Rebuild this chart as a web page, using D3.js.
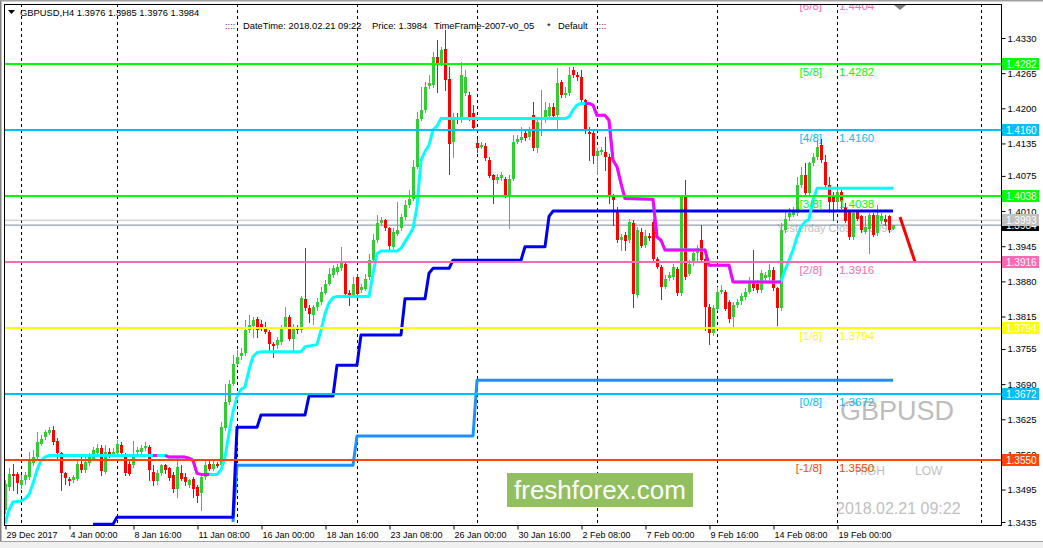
<!DOCTYPE html>
<html>
<head>
<meta charset="utf-8">
<script src="https://cdnjs.cloudflare.com/ajax/libs/d3/7.8.5/d3.min.js"></script>
<style>
body { margin: 0; background: #fff; }
svg { display: block; font-family: "Liberation Sans", Arial, sans-serif; }
</style>
</head>
<body>
<svg width="1043" height="548"></svg>
<script>
// H4 bars, [open, high, low, close]
var candles = [
[1.3457,1.3512,1.3451,1.3506],[1.3499,1.3534,1.3494,1.3523],[1.3523,1.3543,1.3494,1.3520],[1.3523,1.3528,1.3488,1.3506],
[1.3503,1.3522,1.3497,1.3512],[1.3512,1.3528,1.3506,1.3522],[1.3518,1.3565,1.3515,1.3549],[1.3543,1.3568,1.3540,1.3555],
[1.3555,1.3602,1.3549,1.3583],[1.3580,1.3596,1.3577,1.3589],[1.3592,1.3606,1.3589,1.3602],[1.3600,1.3610,1.3597,1.3606],
[1.3605,1.3612,1.3580,1.3583],[1.3585,1.3591,1.3549,1.3562],[1.3562,1.3565,1.3494,1.3525],[1.3525,1.3528,1.3506,1.3515],
[1.3515,1.3518,1.3503,1.3512],[1.3512,1.3522,1.3509,1.3518],[1.3515,1.3549,1.3512,1.3543],[1.3543,1.3555,1.3528,1.3531],
[1.3531,1.3555,1.3528,1.3546],[1.3543,1.3562,1.3540,1.3555],[1.3552,1.3574,1.3549,1.3568],[1.3562,1.3580,1.3559,1.3571],
[1.3571,1.3577,1.3522,1.3528],[1.3528,1.3577,1.3525,1.3565],[1.3565,1.3571,1.3555,1.3560],[1.3562,1.3571,1.3557,1.3565],
[1.3563,1.3586,1.3560,1.3580],[1.3577,1.3583,1.3559,1.3562],[1.3555,1.3562,1.3522,1.3525],[1.3543,1.3549,1.3522,1.3525],
[1.3540,1.3585,1.3537,1.3555],[1.3565,1.3574,1.3562,1.3568],[1.3563,1.3577,1.3560,1.3571],[1.3571,1.3583,1.3568,1.3575],
[1.3574,1.3577,1.3512,1.3531],[1.3528,1.3540,1.3503,1.3512],[1.3512,1.3531,1.3506,1.3526],[1.3525,1.3543,1.3522,1.3540],
[1.3540,1.3543,1.3525,1.3531],[1.3534,1.3537,1.3512,1.3515],[1.3522,1.3528,1.3491,1.3497],[1.3497,1.3555,1.3481,1.3537],
[1.3526,1.3540,1.3512,1.3515],[1.3518,1.3525,1.3503,1.3509],[1.3503,1.3515,1.3500,1.3512],[1.3515,1.3518,1.3481,1.3497],
[1.3500,1.3503,1.3472,1.3484],[1.3488,1.3525,1.3457,1.3518],[1.3518,1.3549,1.3515,1.3540],[1.3543,1.3549,1.3531,1.3534],
[1.3534,1.3552,1.3531,1.3543],[1.3543,1.3546,1.3537,1.3540],[1.3540,1.3620,1.3537,1.3611],[1.3608,1.3691,1.3605,1.3657],
[1.3657,1.3697,1.3654,1.3691],[1.3691,1.3744,1.3688,1.3728],[1.3728,1.3753,1.3725,1.3741],[1.3741,1.3756,1.3737,1.3747],
[1.3747,1.3808,1.3744,1.3790],[1.3790,1.3818,1.3787,1.3799],[1.3796,1.3815,1.3778,1.3808],[1.3810,1.3815,1.3778,1.3790],
[1.3802,1.3808,1.3790,1.3796],[1.3796,1.3805,1.3784,1.3787],[1.3787,1.3790,1.3753,1.3765],[1.3765,1.3768,1.3741,1.3762],
[1.3762,1.3778,1.3756,1.3771],[1.3768,1.3799,1.3765,1.3796],[1.3796,1.3833,1.3793,1.3815],[1.3815,1.3818,1.3771,1.3774],
[1.3774,1.3802,1.3753,1.3796],[1.3796,1.3799,1.3784,1.3790],[1.3790,1.3852,1.3787,1.3849],[1.3847,1.3941,1.3827,1.3830],
[1.3830,1.3836,1.3805,1.3818],[1.3818,1.3836,1.3802,1.3832],[1.3832,1.3849,1.3827,1.3842],[1.3842,1.3870,1.3839,1.3860],
[1.3860,1.3882,1.3857,1.3876],[1.3876,1.3904,1.3873,1.3894],[1.3891,1.3910,1.3888,1.3904],[1.3897,1.3913,1.3894,1.3907],
[1.3904,1.3944,1.3901,1.3916],[1.3913,1.3916,1.3854,1.3857],[1.3859,1.3864,1.3836,1.3854],[1.3854,1.3888,1.3851,1.3876],
[1.3888,1.3894,1.3854,1.3857],[1.3864,1.3876,1.3860,1.3870],[1.3867,1.3894,1.3864,1.3885],[1.3888,1.3931,1.3885,1.3919],
[1.3919,1.3968,1.3916,1.3956],[1.3956,1.4002,1.3953,1.3987],[1.3987,1.3999,1.3984,1.3993],[1.3993,1.3996,1.3975,1.3978],
[1.3978,1.3981,1.3938,1.3944],[1.3944,1.3978,1.3941,1.3972],[1.3968,1.4027,1.3965,1.3975],[1.3978,1.4005,1.3975,1.3999],
[1.3999,1.4030,1.3996,1.4021],[1.4021,1.4049,1.4018,1.4033],[1.4033,1.4104,1.4030,1.4092],[1.4092,1.4194,1.4089,1.4181],
[1.4181,1.4240,1.4178,1.4197],[1.4197,1.4249,1.4194,1.4240],[1.4240,1.4262,1.4237,1.4246],[1.4243,1.4305,1.4240,1.4295],
[1.4295,1.4326,1.4231,1.4283],[1.4283,1.4314,1.4280,1.4308],[1.4309,1.4345,1.4234,1.4252],[1.4255,1.4277,1.4079,1.4135],
[1.4138,1.4191,1.4110,1.4184],[1.4184,1.4191,1.4172,1.4178],[1.4178,1.4286,1.4175,1.4262],[1.4228,1.4271,1.4225,1.4258],
[1.4224,1.4231,1.4178,1.4184],[1.4191,1.4206,1.4160,1.4163],[1.4136,1.4144,1.4120,1.4126],[1.4129,1.4138,1.4126,1.4132],
[1.4130,1.4135,1.4104,1.4107],[1.4105,1.4110,1.4073,1.4076],[1.4076,1.4079,1.4024,1.4067],[1.4067,1.4079,1.4061,1.4073],
[1.4070,1.4082,1.4067,1.4076],[1.4070,1.4073,1.4036,1.4039],[1.4039,1.4076,1.3978,1.4070],[1.4070,1.4150,1.4067,1.4138],
[1.4138,1.4150,1.4135,1.4144],[1.4141,1.4166,1.4138,1.4147],[1.4154,1.4160,1.4141,1.4144],[1.4147,1.4166,1.4144,1.4160],
[1.4187,1.4212,1.4123,1.4126],[1.4126,1.4181,1.4120,1.4175],[1.4178,1.4234,1.4150,1.4184],[1.4178,1.4212,1.4175,1.4197],
[1.4187,1.4209,1.4184,1.4203],[1.4203,1.4209,1.4184,1.4187],[1.4187,1.4274,1.4160,1.4246],[1.4249,1.4252,1.4221,1.4225],
[1.4225,1.4240,1.4221,1.4228],[1.4228,1.4277,1.4225,1.4262],[1.4271,1.4277,1.4258,1.4262],[1.4262,1.4268,1.4252,1.4258],
[1.4258,1.4271,1.4212,1.4215],[1.4215,1.4218,1.4154,1.4157],[1.4157,1.4166,1.4104,1.4154],[1.4154,1.4160,1.4098,1.4112],
[1.4112,1.4126,1.4079,1.4121],[1.4120,1.4129,1.4116,1.4123],[1.4120,1.4147,1.4086,1.4110],[1.4110,1.4116,1.4024,1.4039],
[1.4036,1.4042,1.3984,1.4030],[1.4012,1.4018,1.3953,1.3956],[1.3956,1.3968,1.3938,1.3962],[1.3965,1.3972,1.3938,1.3953],
[1.3956,1.3996,1.3953,1.3990],[1.3987,1.3993,1.3833,1.3855],[1.3855,1.3981,1.3851,1.3975],[1.3972,1.3978,1.3944,1.3947],
[1.3947,1.3975,1.3944,1.3964],[1.3964,1.3969,1.3956,1.3961],[1.3990,1.3996,1.3919,1.3922],[1.3922,1.3925,1.3904,1.3907],
[1.3907,1.3910,1.3848,1.3870],[1.3870,1.3891,1.3867,1.3885],[1.3885,1.3898,1.3882,1.3891],[1.3888,1.3913,1.3885,1.3907],
[1.3902,1.3907,1.3854,1.3858],[1.3858,1.4040,1.3854,1.4037],[1.4037,1.4067,1.3885,1.3888],[1.3895,1.3919,1.3891,1.3913],
[1.3913,1.3938,1.3910,1.3932],[1.3932,1.3947,1.3919,1.3941],[1.3956,1.3984,1.3916,1.3919],[1.3922,1.3928,1.3790,1.3833],
[1.3833,1.3839,1.3765,1.3784],[1.3784,1.3836,1.3781,1.3830],[1.3830,1.3870,1.3827,1.3861],[1.3861,1.3873,1.3858,1.3864],
[1.3861,1.3864,1.3827,1.3830],[1.3842,1.3845,1.3805,1.3811],[1.3814,1.3842,1.3796,1.3836],[1.3836,1.3848,1.3833,1.3842],
[1.3842,1.3858,1.3839,1.3852],[1.3852,1.3867,1.3848,1.3861],[1.3861,1.3888,1.3858,1.3879],[1.3879,1.3938,1.3864,1.3867],
[1.3876,1.3882,1.3861,1.3864],[1.3864,1.3901,1.3861,1.3895],[1.3885,1.3898,1.3882,1.3891],[1.3888,1.3913,1.3885,1.3901],
[1.3901,1.3907,1.3864,1.3867],[1.3867,1.3870,1.3799,1.3830],[1.3830,1.3987,1.3827,1.3975],[1.3975,1.4012,1.3972,1.3996],
[1.3998,1.4015,1.3994,1.4006],[1.4003,1.4018,1.4000,1.4009],[1.4006,1.4073,1.4003,1.4058],[1.4058,1.4092,1.4055,1.4077],
[1.4077,1.4098,1.4040,1.4043],[1.4043,1.4101,1.4040,1.4098],[1.4098,1.4117,1.4095,1.4110],[1.4110,1.4141,1.4107,1.4129],
[1.4132,1.4144,1.4101,1.4104],[1.4101,1.4113,1.4055,1.4058],[1.4058,1.4073,1.4009,1.4027],[1.4040,1.4046,1.3993,1.4027],
[1.4027,1.4052,1.4012,1.4046],[1.4046,1.4049,1.4015,1.4030],[1.4018,1.4024,1.3990,1.3993],[1.4009,1.4012,1.3959,1.3962],
[1.3962,1.4012,1.3959,1.4006],[1.4009,1.4012,1.3993,1.3996],[1.4000,1.4003,1.3972,1.3975],[1.3972,1.4000,1.3969,1.3981],
[1.3978,1.4006,1.3932,1.4003],[1.4003,1.4006,1.3963,1.3966],[1.3969,1.4021,1.3966,1.4003],[1.3990,1.4006,1.3987,1.4000],
[1.3996,1.4003,1.3984,1.3990],[1.4000,1.4003,1.3972,1.3975],[1.3976,1.3985,1.3976,1.3984]
];

var timeLabels = ["29 Dec 2017","4 Jan 00:00","8 Jan 16:00","11 Jan 08:00","16 Jan 00:00","18 Jan 16:00","23 Jan 08:00",
    "26 Jan 00:00","30 Jan 16:00","2 Feb 08:00","7 Feb 00:00","9 Feb 16:00","14 Feb 08:00","19 Feb 00:00"];
var timeLabelBars = [0,16,32,48,64,80,96,112,128,144,160,176,192,208];
var gridBars = [4,28,58,88,118,148,178,208,244];
var priceTicks = [1.4330,1.4265,1.4200,1.4135,1.4075,1.4010,1.3945,1.3880,1.3815,1.3755,1.3690,1.3625,1.3560,1.3495,1.3435];

var murreyPrices = [1.4404,1.4282,1.4160,1.4038,1.3916,1.3794,1.3672,1.3550];
var murreyNames = ["[6/8]","[5/8]","[4/8]","[3/8]","[2/8]","[1/8]","[0/8]","[-1/8]"];
var murreyColors = ["#ff69b4","#00ff00","#00bfff","#00ff00","#ff69b4","#ffff00","#00bfff","#ff4500"];

// trailing stop [bar, price]; down trend stretches are drawn magenta
var trailStops = [[0,1.3432],[1,1.3457],[2,1.3472],[4,1.3474],[5,1.3478],[6,1.3486],[7,1.3506],[8,1.3531],[9,1.3549],
    [10,1.3555],[11,1.3558],[37,1.3558],[38,1.3558],[40,1.3558],[41,1.3555],[45,1.3555],[46,1.3553],[47,1.3549],[48,1.3525],
    [49,1.3523],[51,1.3523],[53,1.3523],[54,1.3531],[55,1.3555],[56,1.3599],[57,1.3639],[58,1.3667],[59,1.3680],[60,1.3685],
    [61,1.3716],[62,1.3741],[63,1.3748],[64,1.3750],[74,1.3750],[75,1.3759],[78,1.3763],[79,1.3790],[80,1.3820],[81,1.3840],
    [82,1.3850],[83,1.3852],[91,1.3852],[92,1.3894],[93,1.3931],[94,1.3936],[98,1.3936],[99,1.3941],[100,1.3953],[101,1.3965],
    [102,1.3978],[103,1.4018],[104,1.4104],[105,1.4120],[106,1.4132],[107,1.4160],[108,1.4167],[109,1.4181],[140,1.4181],
    [141,1.4184],[142,1.4197],[143,1.4206],[144,1.4209],[145,1.4209],[146,1.4209],[147,1.4206],[148,1.4187],[150,1.4187],
    [151,1.4178],[152,1.4104],[153,1.4092],[154,1.4061],[155,1.4033],[162,1.4032],[163,1.3962],[164,1.3956],[165,1.3938],
    [175,1.3938],[176,1.3910],[181,1.3910],[182,1.3879],[194,1.3879],[195,1.3901],[196,1.3919],[197,1.3938],[198,1.3962],
    [199,1.3981],[200,1.3990],[201,1.3995],[202,1.4030],[203,1.4052],[222,1.4052]];
var trailDown = [[37,38],[40,51],[145,194]];

var slowStops = [[22,1.3431],[27,1.3431],[28,1.3444],[57,1.3444],[58,1.3610],[63,1.3610],[64,1.3633],[75,1.3633],
    [76,1.3668],[82,1.3668],[83,1.3725],[88,1.3725],[89,1.3781],[99,1.3781],[100,1.3848],[105,1.3848],[106,1.3895],
    [107,1.3904],[111,1.3904],[112,1.3919],[129,1.3919],[130,1.3944],[135,1.3944],[136,1.4000],[137,1.4010],[222,1.4010]];
var fastStops = [[57,1.3435],[58,1.3540],[87,1.3540],[88,1.3594],[117,1.3594],[118,1.3697],[222,1.3697]];

var projection = [[223.75,1.3999],[227.5,1.3916]];
var yesterdayClose = 1.3993;
var bidPrice = 1.3984;

var svg = d3.select("svg"),
    width = +svg.attr("width"),
    height = +svg.attr("height");

var plotLeft = 4, plotTop = 4, plotRight = 1001, plotBottom = 525;

var x = d3.scaleLinear().domain([0, 222]).range([5, 893]);
var y = d3.scaleLinear().domain([1.3435, 1.4330]).range([522, 38]);

// window frame
svg.append("rect").attr("width", width).attr("height", height).attr("fill", "#fff");
svg.append("rect").attr("x", 0).attr("y", 541).attr("width", width).attr("height", 7).attr("fill", "#f0f0f0");
svg.append("line").attr("x1", 0).attr("x2", width).attr("y1", 541.5).attr("y2", 541.5).attr("stroke", "#a0a0a0");
svg.append("line").attr("x1", 0.5).attr("x2", 0.5).attr("y1", 0).attr("y2", 541).attr("stroke", "#808080").attr("stroke-width", 2);
svg.append("line").attr("x1", 0).attr("x2", width).attr("y1", 0.5).attr("y2", 0.5).attr("stroke", "#a0a0a0").attr("stroke-width", 2);

svg.append("clipPath").attr("id", "plot")
    .append("rect").attr("x", plotLeft + 1).attr("y", plotTop + 1)
    .attr("width", plotRight - plotLeft - 1).attr("height", plotBottom - plotTop - 1);

var plot = svg.append("g").attr("clip-path", "url(#plot)");

plot.selectAll(".grid")
    .data(gridBars)
    .enter().append("line")
    .attr("x1", function (d) { return Math.round(x(d)) + 0.5; })
    .attr("x2", function (d) { return Math.round(x(d)) + 0.5; })
    .attr("y1", plotTop).attr("y2", plotBottom)
    .attr("stroke", "#000").attr("stroke-dasharray", "3,3");

plot.append("text")
    .attr("x", 777).attr("y", 232)
    .attr("font-size", 11).attr("fill", "#c0c0c0")
    .text("Yesterday Close " + yesterdayClose.toFixed(4));

// thin lines for yesterday close and bid
plot.append("line")
    .attr("x1", plotLeft).attr("x2", plotRight)
    .attr("y1", y(yesterdayClose)).attr("y2", y(yesterdayClose))
    .attr("stroke", "#c0c0c0");
plot.append("line")
    .attr("x1", plotLeft).attr("x2", plotRight)
    .attr("y1", y(bidPrice)).attr("y2", y(bidPrice))
    .attr("stroke", "#778899");

var candle = plot.append("g").selectAll("g")
    .data(candles)
    .enter().append("g");

candle.append("line")
    .attr("x1", function (d, i) { return Math.round(x(i)) + 0.5; })
    .attr("x2", function (d, i) { return Math.round(x(i)) + 0.5; })
    .attr("y1", function (d) { return Math.round(y(d[1])); })
    .attr("y2", function (d) { return Math.round(y(d[2])) + 1; })
    .attr("stroke", function (d) { return d[3] >= d[0] ? "#32cd32" : "#ff0000"; });

candle.append("rect")
    .attr("x", function (d, i) { return Math.round(x(i)) - 1; })
    .attr("width", 3)
    .attr("y", function (d) { return Math.round(y(Math.max(d[0], d[3]))); })
    .attr("height", function (d) { return Math.max(1, Math.round(Math.abs(y(d[0]) - y(d[3])))); })
    .attr("fill", function (d) { return d[3] >= d[0] ? "#32cd32" : "#ff0000"; });

var stepLine = d3.line()
    .x(function (d) { return x(d[0]); })
    .y(function (d) { return y(d[1]); });

function drawStops(points, color) {
    plot.append("path")
        .attr("d", stepLine(points))
        .attr("fill", "none")
        .attr("stroke", color)
        .attr("stroke-width", 3)
        .attr("stroke-linejoin", "round");
}

drawStops(fastStops, "#1e90ff");
drawStops(slowStops, "#0000f0");
drawStops(trailStops, "#00ffff");
trailDown.forEach(function (r) {
    drawStops(trailStops.filter(function (d) { return d[0] >= r[0] && d[0] <= r[1]; }), "#ff00ff");
});

plot.append("path")
    .attr("d", stepLine(projection))
    .attr("stroke", "#ff0000").attr("stroke-width", 3);

// watermark texts
plot.append("text").attr("x", 840).attr("y", 420).attr("font-size", 27).attr("fill", "#bdbdbd").text("GBPUSD");
plot.append("text").attr("x", 855).attr("y", 475).attr("font-size", 12).attr("fill", "#c0c0c0").text("HIGH");
plot.append("text").attr("x", 915).attr("y", 475).attr("font-size", 12).attr("fill", "#c0c0c0").text("LOW");
plot.append("text").attr("x", 836).attr("y", 514).attr("font-size", 16).attr("fill", "#c0c0c0").text("2018.02.21 09:22");

// murrey math levels
plot.selectAll(".level")
    .data(murreyPrices)
    .enter().append("line")
    .attr("x1", plotLeft).attr("x2", plotRight)
    .attr("y1", function (d) { return Math.round(y(d)); })
    .attr("y2", function (d) { return Math.round(y(d)); })
    .attr("stroke", function (d, i) { return murreyColors[i]; })
    .attr("stroke-width", 2);

plot.selectAll(".levelName")
    .data(murreyPrices)
    .enter().append("text")
    .attr("x", 822).attr("y", function (d) { return Math.round(y(d)) + 12; })
    .attr("text-anchor", "end").attr("font-size", 11.5)
    .attr("fill", function (d, i) { return murreyColors[i]; })
    .text(function (d, i) { return murreyNames[i]; });

plot.selectAll(".levelValue")
    .data(murreyPrices)
    .enter().append("text")
    .attr("x", 839).attr("y", function (d) { return Math.round(y(d)) + 12; })
    .attr("font-size", 11.5)
    .attr("fill", function (d, i) { return murreyColors[i]; })
    .text(function (d) { return d.toFixed(4); });

// freshforex badge
plot.append("rect").attr("x", 507).attr("y", 473).attr("width", 186).attr("height", 34).attr("fill", "#92bf60");
plot.append("text").attr("x", 600).attr("y", 499).attr("text-anchor", "middle")
    .attr("font-size", 26).attr("fill", "#fff").text("freshforex.com");

plot.append("path").attr("d", "M894,5 L906,5 L900,10 Z").attr("fill", "#808080");

// header
plot.append("path").attr("d", "M8,10 L15,10 L11.5,14 Z").attr("fill", "#000");
plot.append("text").attr("x", 20).attr("y", 16).attr("font-size", 9.4).attr("fill", "#000")
    .text("GBPUSD,H4  1.3976 1.3985 1.3976 1.3984");
var info = [[225, "::::", "#800080"], [243, "DateTime: 2018.02.21 09:22", "#000"], [372, "Price: 1.3984", "#000"],
    [434, "TimeFrame-2007-v0_05", "#000"], [547, "*", "#000"], [558, "Default", "#000"], [596, "::::", "#800080"]];
plot.selectAll(".info")
    .data(info)
    .enter().append("text")
    .attr("x", function (d) { return d[0]; }).attr("y", 29)
    .attr("font-size", 9.4).attr("fill", function (d) { return d[2]; })
    .text(function (d) { return d[1]; });

// plot border
svg.append("rect")
    .attr("x", plotLeft + 0.5).attr("y", plotTop + 0.5)
    .attr("width", plotRight - plotLeft).attr("height", plotBottom - plotTop)
    .attr("fill", "none").attr("stroke", "#000");

// axes
var yAxis = svg.append("g")
    .attr("transform", "translate(" + (plotRight + 0.5) + ",0)")
    .call(d3.axisRight(y).tickValues(priceTicks).tickSize(4).tickPadding(2)
        .tickFormat(function (d) { return d.toFixed(4); }));
yAxis.select(".domain").remove();
yAxis.selectAll("text").attr("font-family", "Liberation Sans, Arial, sans-serif").attr("font-size", 9.5).attr("fill", "#000");

var xAxis = svg.append("g")
    .attr("transform", "translate(0," + (plotBottom + 0.5) + ")")
    .call(d3.axisBottom(x).tickValues(timeLabelBars).tickSize(4).tickPadding(2)
        .tickFormat(function (d, i) { return timeLabels[i]; }));
xAxis.select(".domain").remove();
xAxis.selectAll(".tick line").attr("transform", "translate(0.5,0)");
xAxis.selectAll("text").attr("font-family", "Liberation Sans, Arial, sans-serif").attr("font-size", 9)
    .attr("text-anchor", "start").attr("dx", 1).attr("fill", "#000");

// price boxes on the right scale
var boxes = murreyPrices.slice(1).map(function (p, i) { return [p, murreyColors[i + 1]]; });
boxes.push([bidPrice, "#000000"]);
boxes.push([yesterdayClose, "#c0c0c0"]);

var box = svg.selectAll(".box")
    .data(boxes)
    .enter().append("g")
    .attr("transform", function (d) { return "translate(1002," + Math.round(y(d[0])) + ")"; });
box.append("rect").attr("x", 0).attr("y", -6).attr("width", 37).attr("height", 12)
    .attr("fill", function (d) { return d[1]; });
box.append("text").attr("x", 4).attr("y", 4).attr("font-size", 10).attr("fill", "#fff")
    .text(function (d) { return d[0].toFixed(4); });
</script>
</body>
</html>
